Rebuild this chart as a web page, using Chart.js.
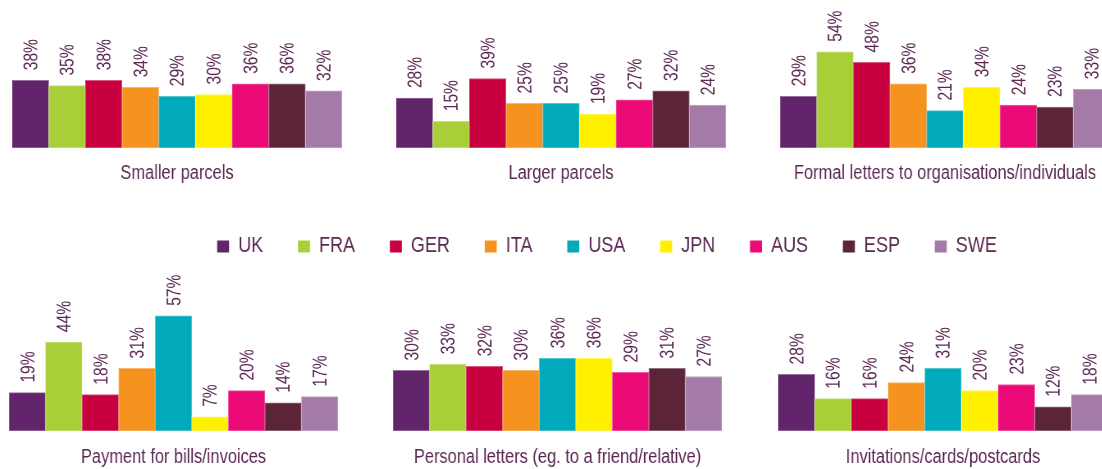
<!DOCTYPE html>
<html>
<head>
<meta charset="utf-8">
<script src="https://cdn.jsdelivr.net/npm/chart.js@4/dist/chart.umd.min.js"></script>
<style>
  html, body { margin: 0; padding: 0; background: #ffffff; overflow: hidden; width: 1102px; height: 469px; position: relative; }
  canvas { position: absolute; }
</style>
</head>
<body>
<script>
// ---- Data ----
const countries = ['UK', 'FRA', 'GER', 'ITA', 'USA', 'JPN', 'AUS', 'ESP', 'SWE'];
const countryColors = ['#62246a', '#a9cf38', '#c8003f', '#f6921e', '#00aabb', '#fff000', '#ec0a76', '#5c2439', '#a47ba8'];

const titleSmallerParcels = 'Smaller parcels';
const valuesSmallerParcels = [38, 35, 38, 34, 29, 30, 36, 36, 32];

const titleLargerParcels = 'Larger parcels';
const valuesLargerParcels = [28, 15, 39, 25, 25, 19, 27, 32, 24];

const titleFormalLetters = 'Formal letters to organisations/individuals';
const valuesFormalLetters = [29, 54, 48, 36, 21, 34, 24, 23, 33];

const titlePayment = 'Payment for bills/invoices';
const valuesPayment = [19, 44, 18, 31, 57, 7, 20, 14, 17];

const titlePersonalLetters = 'Personal letters (eg. to a friend/relative)';
const valuesPersonalLetters = [30, 33, 32, 30, 36, 36, 29, 31, 27];

const titleInvitations = 'Invitations/cards/postcards';
const valuesInvitations = [28, 16, 16, 24, 31, 20, 23, 12, 18];

// ---- Styling ----
const TEXT = '#5a2853';
const FONT = '"Liberation Sans", Arial, sans-serif';
const NARROW = 0.82; // horizontal condensing (narrow typeface look)

function lighten(hex, amt) {
  const n = parseInt(hex.slice(1), 16);
  const r = (n >> 16) & 255, g = (n >> 8) & 255, b = n & 255;
  const f = c => Math.round(c + (255 - c) * amt);
  return 'rgb(' + f(r) + ',' + f(g) + ',' + f(b) + ')';
}
const borderColors = countryColors.map(c => lighten(c, 0.35));

// canvas whose drawing is condensed horizontally by CSS
function makeCanvas(left, top, width, height) {
  const c = document.createElement('canvas');
  c.width = Math.round(width / NARROW);
  c.height = height;
  c.style.left = left + 'px';
  c.style.top = top + 'px';
  c.style.width = width + 'px';
  c.style.height = height + 'px';
  document.body.appendChild(c);
  return c;
}

const valueLabels = {
  id: 'valueLabels',
  afterDatasetsDraw(chart) {
    const ctx = chart.ctx;
    const sx = parseFloat(chart.canvas.style.width) / chart.canvas.width;
    const meta = chart.getDatasetMeta(0);
    const data = chart.data.datasets[0].data;
    ctx.save();
    ctx.fillStyle = TEXT;
    ctx.font = '19px ' + FONT;
    ctx.textAlign = 'left';
    ctx.textBaseline = 'alphabetic';
    meta.data.forEach((bar, i) => {
      ctx.save();
      ctx.translate(bar.x, bar.y - 10);
      ctx.rotate(-Math.PI / 2);
      ctx.scale(NARROW, 1 / sx);
      ctx.fillText(data[i] + '%', 0, 6.8);
      ctx.restore();
    });
    ctx.restore();
  }
};

function makePanel(canvas, title, values, yMax, padTop, padBottom) {
  new Chart(canvas, {
    type: 'bar',
    data: {
      labels: countries,
      datasets: [{
        data: values,
        backgroundColor: countryColors,
        borderColor: borderColors,
        borderWidth: 1,
        borderSkipped: false,
        categoryPercentage: 1.0,
        barPercentage: 1.0
      }]
    },
    options: {
      responsive: false,
      animation: false,
      layout: { padding: 0 },
      scales: {
        x: { display: false },
        y: { display: false, min: 0, max: yMax }
      },
      plugins: {
        legend: { display: false },
        tooltip: { enabled: false },
        title: {
          display: true,
          text: title,
          position: 'bottom',
          color: TEXT,
          font: { family: FONT, size: 20, weight: 'normal', lineHeight: 1.2 },
          padding: { top: padTop, bottom: padBottom }
        }
      }
    },
    plugins: [valueLabels]
  });
}

// Legend (drawn first so it sits underneath the panels)
const legendCanvas = makeCanvas(156, 193, 902, 260);
new Chart(legendCanvas, {
  type: 'bar',
  data: { labels: [], datasets: [] },
  options: {
    responsive: false,
    animation: false,
    layout: { padding: 0 },
    scales: { x: { display: false }, y: { display: false } },
    plugins: {
      tooltip: { enabled: false },
      title: { display: false },
      legend: {
        display: true,
        position: 'top',
        align: 'center',
        labels: {
          boxWidth: 12 / NARROW,
          boxHeight: 12,
          padding: 42.4,
          color: TEXT,
          font: { family: FONT, size: 22 },
          generateLabels: () => countries.map((c, i) => ({
            text: c,
            fillStyle: countryColors[i],
            strokeStyle: countryColors[i],
            lineWidth: 0,
            fontColor: TEXT,
            hidden: false,
            index: i
          }))
        }
      }
    }
  }
});

makePanel(makeCanvas(12, 0, 330, 200), titleSmallerParcels, valuesSmallerParcels, 83, 13, 15);
makePanel(makeCanvas(396, 0, 330, 200), titleLargerParcels, valuesLargerParcels, 83, 13, 15);
makePanel(makeCanvas(780, 0, 330, 200), titleFormalLetters, valuesFormalLetters, 83, 13, 15);
makePanel(makeCanvas(9, 268, 329, 201), titlePayment, valuesPayment, 80.7, 14, 0);
makePanel(makeCanvas(393, 268, 329, 201), titlePersonalLetters, valuesPersonalLetters, 80.7, 14, 0);
makePanel(makeCanvas(778, 268, 330, 201), titleInvitations, valuesInvitations, 80.7, 14, 0);
</script>
</body>
</html>
